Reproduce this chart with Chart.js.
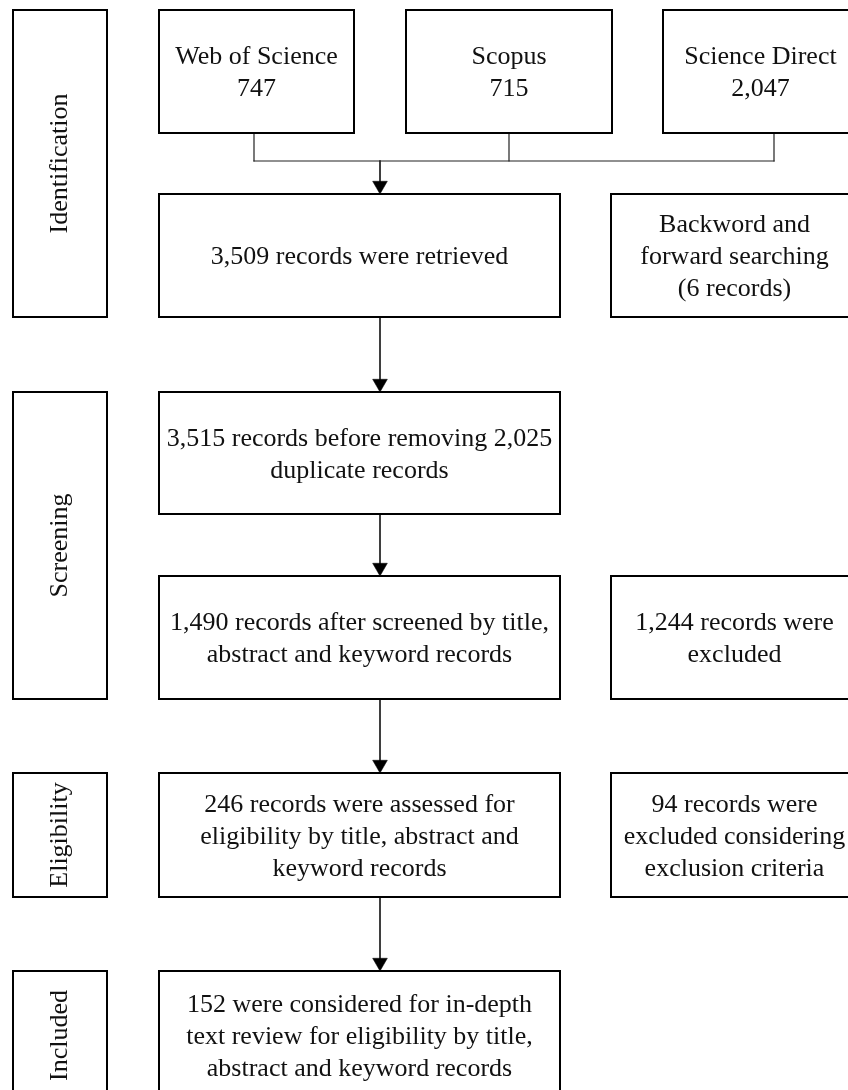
<!DOCTYPE html>
<html>
<head>
<meta charset="utf-8">
<script src="https://cdn.jsdelivr.net/npm/chart.js@4.4.0/dist/chart.umd.min.js"></script>
<style>
  html, body { margin: 0; padding: 0; background: #fff; }
  #wrap { width: 848px; height: 1090px; }
</style>
</head>
<body>
<div id="wrap"><canvas id="flow" width="848" height="1090"></canvas></div>
<script>
// PRISMA flow contents
const stages = ['Identification', 'Screening', 'Eligibility', 'Included'];
const sources = ['Web of Science', 'Scopus', 'Science Direct'];
const sourceCounts = ['747', '715', '2,047'];
const mainSteps = [
    ['3,509 records were retrieved'],
    ['3,515 records before removing 2,025', 'duplicate records'],
    ['1,490 records after screened by title,', 'abstract and keyword records'],
    ['246 records were assessed for', 'eligibility by title, abstract and', 'keyword records'],
    ['152 were considered for in-depth', 'text review for eligibility by title,', 'abstract and keyword records']
];
const sideNotes = [
    ['Backword and', 'forward searching', '(6 records)'],
    ['1,244 records were', 'excluded'],
    ['94 records were', 'excluded considering', 'exclusion criteria']
];

// layout grid (axis units, 1 unit = 1 px)
const rows = [[10, 133], [194, 317], [392, 514], [576, 699], [773, 897], [971, 1100]];
const stageCol = [13, 107];
const mainCol = [159, 560];
const sideCol = [611, 858];
const sourceCols = [[159, 354], [406, 612], [663, 858]];
const sourceDrops = [254, 509, 774];
const stageSpans = [[0, 1], [2, 3], [4, 4], [5, 5]];
const sideRows = [1, 3, 4];
const arrowX = 380;
const busY = 161;
const headR = 8.5;

const FONT = '25px "Liberation Serif", "Times New Roman", serif';
const LINE_H = 32;
const STRETCH = 1.04;
const TEXT_DY = 2;

function boxPath(x0, x1, y0, y1) {
    return [{x: x0, y: y0}, {x: x1, y: y0}, {x: x1, y: y1}, {x: x0, y: y1}, {x: x0, y: y0}];
}

function lineSet(data, width, color) {
    return {
        type: 'scatter', data: data, showLine: true, fill: false,
        borderColor: color, borderWidth: width, pointRadius: 0, pointHoverRadius: 0,
        borderCapStyle: 'square', borderJoinStyle: 'miter', tension: 0
    };
}

// boxes with their text, built from the arrays above
const boxes = [];
stages.forEach((s, i) => {
    const r0 = rows[stageSpans[i][0]], r1 = rows[stageSpans[i][1]];
    boxes.push({x0: stageCol[0], x1: stageCol[1], y0: r0[0], y1: r1[1], lines: [s], rotate: true});
});
sources.forEach((s, i) => {
    boxes.push({x0: sourceCols[i][0], x1: sourceCols[i][1], y0: rows[0][0], y1: rows[0][1], lines: [s, sourceCounts[i]]});
});
mainSteps.forEach((lines, i) => {
    boxes.push({x0: mainCol[0], x1: mainCol[1], y0: rows[i + 1][0], y1: rows[i + 1][1], lines: lines});
});
sideNotes.forEach((lines, i) => {
    const r = rows[sideRows[i]];
    boxes.push({x0: sideCol[0], x1: sideCol[1], y0: r[0], y1: r[1], lines: lines});
});

const datasets = boxes.map(b => lineSet(boxPath(b.x0, b.x1, b.y0, b.y1), 2, '#000'));

// source connectors
sourceDrops.forEach(x => datasets.push(lineSet([{x: x, y: rows[0][1]}, {x: x, y: busY}], 1.2, '#222')));
datasets.push(lineSet([{x: sourceDrops[0], y: busY}, {x: sourceDrops[2], y: busY}], 1.2, '#222'));

// vertical arrows down the main column
const arrows = [[busY, rows[1][0]]];
for (let i = 1; i < 5; i++) arrows.push([rows[i][1], rows[i + 1][0]]);
arrows.forEach(a => datasets.push(lineSet([{x: arrowX, y: a[0]}, {x: arrowX, y: a[1] - 10}], 1.5, '#000')));
datasets.push({
    type: 'scatter',
    data: arrows.map(a => ({x: arrowX, y: a[1] - headR})),
    pointStyle: 'triangle', rotation: 180, pointRadius: headR, pointHoverRadius: headR,
    backgroundColor: '#000', borderColor: '#000', borderWidth: 0.5
});

const textPlugin = {
    id: 'boxText',
    afterDatasetsDraw(chart) {
        const ctx = chart.ctx, xs = chart.scales.x, ys = chart.scales.y;
        ctx.save();
        ctx.font = FONT;
        ctx.fillStyle = '#111';
        ctx.textAlign = 'center';
        ctx.textBaseline = 'middle';
        boxes.forEach(b => {
            const cx = xs.getPixelForValue((b.x0 + b.x1) / 2);
            const cy = ys.getPixelForValue((b.y0 + b.y1) / 2);
            ctx.save();
            if (b.rotate) {
                ctx.translate(cx, cy);
                ctx.rotate(-Math.PI / 2);
            } else {
                ctx.translate(cx, cy + TEXT_DY);
            }
            ctx.scale(STRETCH, 1);
            const n = b.lines.length;
            b.lines.forEach((t, i) => {
                ctx.fillText(t, 0, (i - (n - 1) / 2) * LINE_H);
            });
            ctx.restore();
        });
        ctx.restore();
    }
};

new Chart(document.getElementById('flow'), {
    type: 'scatter',
    data: {datasets: datasets},
    options: {
        responsive: false,
        animation: false,
        devicePixelRatio: 1,
        layout: {padding: 0, autoPadding: false},
        plugins: {legend: {display: false}, tooltip: {enabled: false}},
        events: [],
        scales: {
            x: {type: 'linear', min: 0, max: 848, display: false},
            y: {type: 'linear', min: 0, max: 1090, reverse: true, display: false}
        }
    },
    plugins: [textPlugin]
});
</script>
</body>
</html>
